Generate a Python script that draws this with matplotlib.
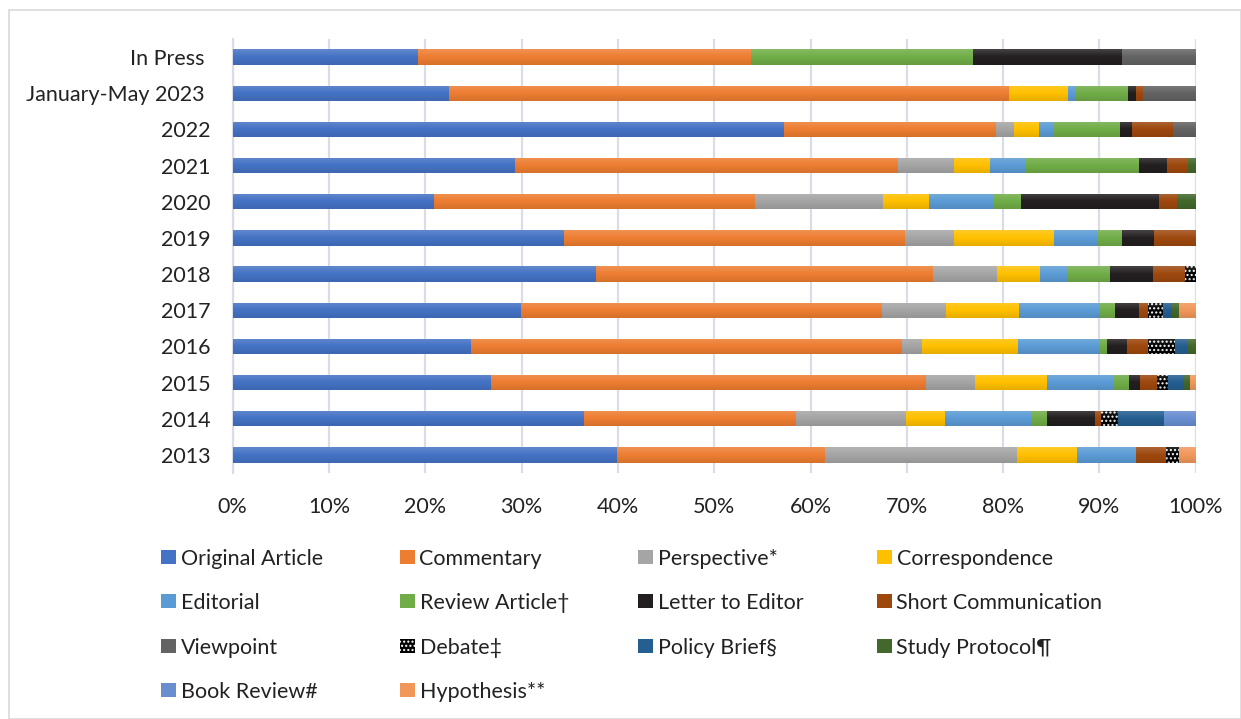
import numpy as np
import matplotlib
matplotlib.use("Agg")
import matplotlib.pyplot as plt
from matplotlib.patches import Rectangle
from matplotlib.ticker import FuncFormatter, MultipleLocator

categories = ["In Press ", "January-May 2023 ", "2022", "2021", "2020", "2019",
              "2018", "2017", "2016", "2015", "2014", "2013"]

series_names = ["Original Article", "Commentary", "Perspective*", "Correspondence",
                "Editorial", "Review Article\u2020", "Letter to Editor", "Short Communication",
                "Viewpoint", "Debate\u2021", "Policy Brief\u00a7", "Study Protocol\u00b6",
                "Book Review#", "Hypothesis**"]

original_article = [19.2, 22.5, 57.2, 29.3, 20.9, 34.4, 37.7, 29.9, 24.7, 26.8, 36.5, 39.9]
commentary = [34.6, 58.1, 22.1, 39.8, 33.3, 35.4, 35.0, 37.5, 44.8, 45.2, 22.0, 21.6]
perspective = [0, 0, 1.8, 5.8, 13.3, 5.1, 6.7, 6.7, 2.1, 5.1, 11.4, 19.9]
correspondence = [0, 6.1, 2.6, 3.7, 4.8, 10.4, 4.4, 7.5, 9.9, 7.5, 4.1, 6.3]
editorial = [0, 0.9, 1.6, 3.7, 6.7, 4.4, 2.8, 8.4, 8.6, 6.8, 8.9, 6.1]
review_article = [23.1, 5.4, 6.8, 11.8, 2.9, 2.6, 4.5, 1.6, 0.7, 1.7, 1.7, 0]
letter_to_editor = [15.4, 0.8, 1.3, 2.9, 14.3, 3.4, 4.5, 2.5, 2.1, 1.1, 4.9, 0]
short_communication = [0, 0.7, 4.2, 2.2, 1.9, 4.3, 3.3, 0.9, 2.1, 1.8, 0.7, 3.1]
viewpoint = [7.7, 5.5, 2.4, 0, 0, 0, 0, 0, 0, 0, 0, 0]
debate = [0, 0, 0, 0, 0, 0, 1.1, 1.6, 2.9, 1.1, 1.7, 1.4]
policy_brief = [0, 0, 0, 0, 0, 0, 0, 0.9, 1.3, 1.7, 4.8, 0]
study_protocol = [0, 0, 0, 0.8, 1.9, 0, 0, 0.8, 0.8, 0.6, 0, 0]
book_review = [0, 0, 0, 0, 0, 0, 0, 0, 0, 0, 3.3, 0]
hypothesis = [0, 0, 0, 0, 0, 0, 0, 1.7, 0, 0.6, 0, 1.7]

series_values = [original_article, commentary, perspective, correspondence, editorial,
                 review_article, letter_to_editor, short_communication, viewpoint, debate,
                 policy_brief, study_protocol, book_review, hypothesis]

colors = ["#4472C4", "#ED7D31", "#A5A5A5", "#FFC000", "#5B9BD5", "#70AD47", "#231F20",
          "#9E480E", "#636363", "#000000", "#255E91", "#43682B", "#698ED0", "#F1975A"]

FONT = "Lato"
TXT = "#222222"
FS = 15.5
plt.rcParams['font.family'] = [FONT, 'DejaVu Sans']
plt.rcParams['hatch.linewidth'] = 1.0

W, H = 1241, 719
fig = plt.figure(figsize=(W / 100, H / 100), dpi=100)
fig.patch.set_facecolor("white")

# outer frame
fig.patches.append(Rectangle((9 / W, 0), 1 - 9 / W, 1 - 10 / H, transform=fig.transFigure,
                             fill=False, edgecolor="#D9D9D9", lw=1.2))

ax = fig.add_axes([232.7 / W, 1 - 473 / H, 963 / W, 434 / H])
y = np.arange(len(categories))
bar_h = 0.42
left = np.zeros(len(categories))
for name, vals, col in zip(series_names, series_values, colors):
    vals = np.array(vals, dtype=float)
    if name.startswith("Debate"):
        ax.barh(y, vals, left=left, height=bar_h, color="#000000", edgecolor="white",
                hatch="....", lw=0, zorder=3)
    else:
        ax.barh(y, vals, left=left, height=bar_h, color=col, lw=0, zorder=3)
    left += vals

# subtle vertical gradient overlay on each bar
grad = np.zeros((30, 1, 4))
t = np.linspace(0, 1, 30)
for i, tt in enumerate(t):
    if tt < 0.5:
        grad[i, 0, :3] = 1.0
        grad[i, 0, 3] = 0.16 * (0.5 - tt) / 0.5
    else:
        grad[i, 0, :3] = 0.0
        grad[i, 0, 3] = 0.10 * (tt - 0.5) / 0.5
for yi, tot in zip(y, left):
    ax.imshow(grad, extent=(0, tot, yi + bar_h / 2, yi - bar_h / 2), aspect="auto",
              zorder=4, interpolation="bilinear")

ax.set_xlim(0, 100)
ax.set_ylim(len(categories) - 0.5, -0.5)
ax.xaxis.set_major_locator(MultipleLocator(10))
ax.xaxis.set_major_formatter(FuncFormatter(lambda v, p: f"{int(round(v))}%"))
ax.set_yticks(y)
ax.set_yticklabels(categories)
ax.grid(axis="x", color="#DADEE4", lw=1.6, zorder=0)
ax.set_axisbelow(True)
for s in ["top", "right", "bottom"]:
    ax.spines[s].set_visible(False)
ax.spines["left"].set_color("#DADEE4")
ax.spines["left"].set_linewidth(1.6)
ax.tick_params(axis="both", length=0, labelsize=FS, colors=TXT)
ax.tick_params(axis="y", pad=16)
ax.tick_params(axis="x", pad=17)

# legend (manual, 4 uniform columns)
col_x0 = 161
col_dx = 238.5
row_y = [557, 601, 646, 690]
for i, (name, col) in enumerate(zip(series_names, colors)):
    c, r = i % 4, i // 4
    x0 = col_x0 + c * col_dx
    yc = row_y[r]
    if name.startswith("Debate"):
        rect = Rectangle((x0 / W, 1 - (yc + 7) / H), 15 / W, 14 / H, transform=fig.transFigure,
                         facecolor="black", edgecolor="white", hatch="....", lw=0)
    else:
        rect = Rectangle((x0 / W, 1 - (yc + 7) / H), 15 / W, 14 / H, transform=fig.transFigure,
                         facecolor=col, lw=0)
    fig.patches.append(rect)
    fig.text((x0 + 20) / W, 1 - yc / H, name, fontsize=FS, color=TXT, va="center_baseline",
             ha="left")

fig.savefig("out.png", dpi=100, facecolor="white")
